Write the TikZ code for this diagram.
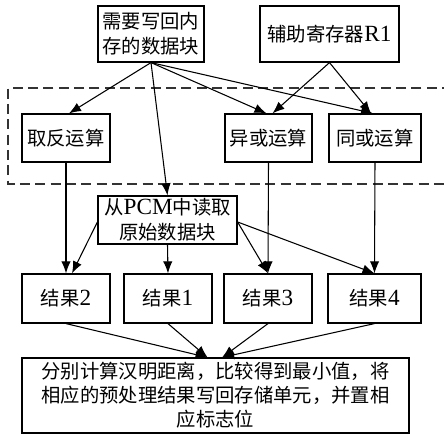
\documentclass[tikz,border=0pt]{standalone}
\usepackage{fontspec}
\setmainfont{Noto Sans CJK SC}
\newfontfamily\lat[Scale=1.2]{Liberation Serif}
\usetikzlibrary{arrows.meta}
\begin{document}
\begin{tikzpicture}[x=0.75pt,y=-0.75pt,
  box/.style={draw,line width=0.9pt,inner sep=0pt,align=center,
    font=\fontsize{14.5pt}{18.75pt}\selectfont},
  conn/.style={line width=0.8pt,-{Latex[length=9pt,width=7pt]}}]
\useasboundingbox (0,0) rectangle (444,434);
% dashed region
\draw[line width=0.9pt,black!80,dash pattern=on 7.5pt off 4pt]
  (452,88) -- (8,88) -- (8,184) -- (452,184);
% nodes
\node[box,minimum width=106*0.75pt,minimum height=56*0.75pt] (A) at (151,34) {需要写回内\\存的数据块};
\node[box,minimum width=139*0.75pt,minimum height=56*0.75pt] (B) at (329.5,34) {辅助寄存器{\lat R1}};
\node[box,minimum width=88*0.75pt,minimum height=48*0.75pt] (Q) at (66,138) {取反运算};
\node[box,minimum width=87*0.75pt,minimum height=48*0.75pt] (X) at (268.5,138) {异或运算};
\node[box,minimum width=92*0.75pt,minimum height=48*0.75pt] (T) at (375,138) {同或运算};
\node[box,minimum width=139*0.75pt,minimum height=48*0.75pt] (P) at (167.5,220) {从{\lat PCM}中读取\\原始数据块};
\node[box,minimum width=88*0.75pt,minimum height=49*0.75pt] (R2) at (66,298.5) {结果{\lat 2}};
\node[box,minimum width=88*0.75pt,minimum height=49*0.75pt] (R1) at (168,298.5) {结果{\lat 1}};
\node[box,minimum width=88*0.75pt,minimum height=49*0.75pt] (R3) at (268,298.5) {结果{\lat 3}};
\node[box,minimum width=93*0.75pt,minimum height=49*0.75pt] (R4) at (374.5,298.5) {结果{\lat 4}};
\node[box,minimum width=387*0.75pt,minimum height=75*0.75pt,
  font=\fontsize{14.5pt}{18pt}\selectfont] (F) at (215.5,395.5)
  {分别计算汉明距离，比较得到最小值，将\\相应的预处理结果写回存储单元，并置相\\应标志位};
% connectors from top
\draw[conn] (A.south) -- ([xshift=2.25pt]Q.north);
\draw[conn] (A.south) -- (P.north);
\draw[conn] (A.south) -- ([xshift=-1.5pt]X.north);
\draw[conn] (A.south) -- ([xshift=-1.5pt]T.north);
\draw[conn] (B.south) -- ([xshift=3pt]X.north);
\draw[conn] (B.south) -- ([xshift=-3pt]T.north);
% to results
\draw[conn] (Q.south) -- (R2.north);
\draw[conn] ([yshift=-1.5pt]P.west) -- ([xshift=4.5pt]R2.north);
\draw[conn] (P.south) -- (R1.north);
\draw[conn] (X.south) -- (R3.north);
\draw[conn] ([yshift=-1.5pt]P.east) -- (R3.north);
\draw[conn] (T.south) -- (R4.north);
\draw[conn] ([yshift=-1.5pt]P.east) -- (R4.north);
% to final
\coordinate (FL) at ([xshift=-6pt]F.north);
\coordinate (FR) at ([xshift=5pt]F.north);
\draw[conn] (R2.south) -- (FL);
\draw[conn] (R1.south) -- (FL);
\draw[conn] (R3.south) -- (FR);
\draw[conn] (R4.south) -- (FR);
\end{tikzpicture}
\end{document}
